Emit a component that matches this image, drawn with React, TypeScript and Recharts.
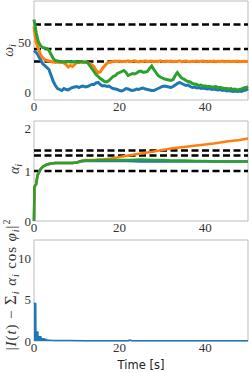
import { LineChart, Line, AreaChart, Area, XAxis, YAxis, ReferenceLine, ReferenceArea } from 'recharts';

// time grid for the frequency panel (s)
const tOmega = [
  0, 0.5, 1, 1.5, 2, 2.5, 3, 3.5, 4, 4.5, 5, 5.5, 6, 6.5, 7, 7.5, 8, 8.5, 9, 9.5,
  10, 10.5, 11, 11.5, 12, 12.5, 13, 13.5, 14, 14.5, 15, 15.5, 16, 16.5, 17, 17.5, 18, 18.5, 19, 19.5,
  20, 20.5, 21, 21.5, 22, 22.5, 23, 23.5, 24, 24.5, 25, 25.5, 26, 26.5, 27, 27.5, 28, 28.5, 29, 29.5,
  30, 30.5, 31, 31.5, 32, 32.5, 33, 33.5, 34, 34.5, 35, 35.5, 36, 36.5, 37, 37.5, 38, 38.5, 39, 39.5,
  40, 40.5, 41, 41.5, 42, 42.5, 43, 43.5, 44, 44.5, 45, 45.5, 46, 46.5, 47, 47.5, 48, 48.5, 49, 49.5, 50,
];
const omegaBlue = [
  42, 40, 37, 33, 29, 27, 25, 23, 17, 11, 7, 4, 3, 2, 4, 3, 2.5, 4, 5, 5.5,
  6, 5, 6, 6.5, 5.5, 6, 7, 8, 8, 9.5, 10, 8, 6.5, 7, 6, 6.5, 5, 4, 3.5, 3,
  2, 1.5, 2.5, 4, 3.5, 2.5, 2, 2.5, 3.5, 3, 4, 4.5, 3.5, 3, 2.5, 2, 2, 3, 4, 5,
  6, 6.5, 6, 5.5, 5, 6, 7.5, 9, 10, 9, 8, 7, 7.5, 6, 5, 5.5, 4.5, 5, 4, 4.5,
  4, 3.5, 4, 3, 3.5, 3, 2.5, 3, 2, 2.5, 1.5, 2, 1.5, 1, 1.5, 1, 1.5, 1, 2, 2.5, 4,
];
const omegaOrange = [
  66, 50, 44, 38, 35, 33, 32, 31.5, 31, 30.5, 30, 30.5, 30, 30.5, 29.5, 28, 25.5, 27, 26, 28,
  30, 30, 30.5, 30, 30.5, 30, 29, 27.5, 26, 22, 20, 20.5, 24, 26.5, 29, 30, 30.5, 31, 31.5, 31,
  31.5, 30.8, 31.3, 31, 31.6, 30.9, 31.2, 31.7, 31, 30.6, 31.3, 31.1, 31.6, 30.8, 31.2, 31.5, 30.9, 31.3, 31, 31.6,
  31.1, 30.7, 31.4, 31, 31.5, 30.9, 31.3, 31.1, 31.6, 30.8, 31.2, 31.5, 31, 30.7, 31.3, 31.1, 31.5, 30.9, 31.2, 31.4,
  31, 30.8, 31.3, 31.1, 31.5, 30.9, 31.2, 31, 31.4, 30.8, 31.1, 31.3, 30.9, 31.2, 31, 31.4, 30.8, 31.1, 31.2, 30.9, 31,
];
const omegaGreen = [
  73, 60, 51, 47, 45, 44.5, 44, 42, 38, 34, 32, 31.5, 31, 30.5, 31, 30.5, 31, 30.5, 30.5, 31,
  30.5, 30.5, 31, 30.5, 30.5, 30, 27, 24, 21, 18, 16, 14, 12.5, 11, 10.5, 12, 14, 16, 17, 19,
  20, 21, 22, 20, 17, 18, 19, 18.5, 19.5, 21, 21.5, 20, 20.5, 21, 24, 26.5, 23, 20, 17, 15.5,
  14.5, 13.5, 13, 12.5, 12, 13, 17, 20, 17, 14.5, 13.5, 12, 11, 10.5, 9, 8.5, 8, 7, 7.5, 6.5,
  6.5, 6, 6, 5.5, 5.5, 6, 5, 5, 4.5, 4, 4, 3.5, 4, 3, 3.5, 2.5, 3, 3.5, 4.5, 5, 6,
];
const omegaRefs = [68, 43.5, 31];

// time grid for the amplitude panel (s)
const tAlpha = [0, 0.1, 0.3, 0.5, 0.8, 1, 1.5, 2, 2.5, 3, 4, 5, 6, 7, 8, 9, 10, 11, 12, 13, 14, 15, 16, 18, 20, 22, 25, 28, 30, 32, 35, 38, 40, 42, 45, 48, 50];
const alphaBlue = [0, 0.68, 0.71, 0.74, 0.9, 0.95, 1.03, 1.08, 1.11, 1.13, 1.15, 1.16, 1.16, 1.16, 1.16, 1.16, 1.17, 1.19, 1.2, 1.2, 1.2, 1.2, 1.2, 1.2, 1.2, 1.2, 1.19, 1.19, 1.19, 1.19, 1.19, 1.19, 1.19, 1.19, 1.19, 1.19, 1.19];
const alphaOrange = [0, 0.68, 0.71, 0.74, 0.9, 0.95, 1.03, 1.08, 1.11, 1.13, 1.15, 1.16, 1.16, 1.16, 1.16, 1.16, 1.17, 1.2, 1.22, 1.22, 1.22, 1.23, 1.23, 1.25, 1.28, 1.31, 1.35, 1.39, 1.42, 1.45, 1.48, 1.51, 1.53, 1.55, 1.59, 1.62, 1.65];
const alphaGreen = [0, 0.68, 0.71, 0.74, 0.9, 0.95, 1.03, 1.08, 1.11, 1.13, 1.15, 1.16, 1.16, 1.16, 1.16, 1.16, 1.17, 1.2, 1.21, 1.21, 1.21, 1.22, 1.22, 1.22, 1.22, 1.22, 1.23, 1.22, 1.22, 1.21, 1.21, 1.2, 1.2, 1.19, 1.19, 1.19, 1.19];
const alphaRefs = [1.41, 1.31, 1.0];

// reconstruction error
const tErr = [0, 0.4, 0.45, 0.9, 0.95, 1.6, 1.7, 2.5, 3, 4, 5, 8, 12, 20, 22, 22.3, 23, 30, 40, 50];
const errBlue = [4.6, 4.5, 1.1, 1.1, 0.5, 0.5, 0.3, 0.25, 0.12, 0.08, 0.06, 0.05, 0.04, 0.03, 0.03, 0.12, 0.03, 0.03, 0.03, 0.03];

const xTicks = [0, 20, 40];
const omegaTicks = [0, 50];
const alphaTicks = [0, 1, 2];
const errTicks = [0, 5, 10];

const BLUE = '#1f77b4';
const ORANGE = '#ff7f0e';
const GREEN = '#2ca02c';
const SPINE = '#bcbcbc';
const SERIF = '"Liberation Serif", "DejaVu Serif", serif';
const tickStyle = { fontSize: 13, fontFamily: SERIF, fill: '#333' };

const omegaData = tOmega.map((t, i) => ({ t, b: omegaBlue[i], o: omegaOrange[i], g: omegaGreen[i] }));
const alphaData = tAlpha.map((t, i) => ({ t, b: alphaBlue[i], o: alphaOrange[i], g: alphaGreen[i] }));
const errData = tErr.map((t, i) => ({ t, e: errBlue[i] }));

const OmegaLabel = ({ viewBox }: any) => {
  const x = 13;
  const y = viewBox.y + viewBox.height / 2;
  return (
    <text transform={`rotate(-90 ${x} ${y})`} x={x} y={y} textAnchor="middle" fontFamily={SERIF} fontSize={14} fill="#333">
      <tspan fontStyle="italic">ω</tspan>
      <tspan fontStyle="italic" fontSize={10} dy={3}>i</tspan>
    </text>
  );
};

const AlphaLabel = ({ viewBox }: any) => {
  const x = 19;
  const y = viewBox.y + viewBox.height / 2 - 2;
  return (
    <text transform={`rotate(-90 ${x} ${y})`} x={x} y={y} textAnchor="middle" fontFamily={SERIF} fontSize={14} fill="#333">
      <tspan fontStyle="italic">α</tspan>
      <tspan fontStyle="italic" fontSize={10} dy={3}>i</tspan>
    </text>
  );
};

const ErrLabel = ({ viewBox }: any) => {
  const x = 16;
  const y = viewBox.y + viewBox.height / 2 - 6;
  return (
    <text transform={`rotate(-90 ${x} ${y})`} x={x} y={y} textAnchor="middle" fontFamily={SERIF} fontSize={15} letterSpacing={0.9} fill="#333">
      <tspan>|</tspan>
      <tspan fontStyle="italic">I</tspan>
      <tspan>(</tspan>
      <tspan fontStyle="italic">t</tspan>
      <tspan>) − </tspan>
      <tspan fontSize={17}>Σ</tspan>
      <tspan fontStyle="italic" fontSize={10} dy={3}>i</tspan>
      <tspan fontStyle="italic" dy={-3}> α</tspan>
      <tspan fontStyle="italic" fontSize={10} dy={3}>i</tspan>
      <tspan dy={-3}> cos </tspan>
      <tspan fontStyle="italic">φ</tspan>
      <tspan fontStyle="italic" fontSize={10} dy={3}>i</tspan>
      <tspan dy={-3}>|</tspan>
      <tspan fontSize={10} dy={-6}>2</tspan>
    </text>
  );
};

// y is in the svg's own coordinates (the third chart starts at page y 218)
const TimeLabel = ({ viewBox }: any) => (
  <text x={viewBox.x + viewBox.width / 2} y={151} textAnchor="middle" fontFamily='"DejaVu Sans", sans-serif' fontSize={11.5} fill="#222">
    Time [s]
  </text>
);

export default function App() {
  return (
    <div style={{ position: 'absolute', left: 0, top: 0, width: 249, height: 373, background: '#fff' }}>
      <div style={{ position: 'absolute', left: 0, top: 0 }}>
        <LineChart width={249} height={120} data={omegaData} margin={{ top: 1, right: 1, left: 0, bottom: 0 }}>
          <XAxis dataKey="t" type="number" domain={[0, 50]} ticks={xTicks} tickLine={false} axisLine={false} tickSize={0} tickMargin={2} height={20} tick={tickStyle} />
          <YAxis type="number" domain={[-7.5, 91.5]} ticks={omegaTicks} tickLine={false} axisLine={false} tickSize={0} tickMargin={3} width={34} tick={tickStyle} label={<OmegaLabel />} />
          <ReferenceArea x1={0} x2={50} y1={-7.5} y2={91.5} fill="none" stroke={SPINE} strokeWidth={1} />
          {omegaRefs.map((v) => (
            <ReferenceLine key={v} y={v} stroke="#000" strokeWidth={2.6} strokeDasharray="7 3.5" />
          ))}
          <Line dataKey="b" stroke={BLUE} strokeWidth={3} dot={false} type="linear" isAnimationActive={false} />
          <Line dataKey="o" stroke={ORANGE} strokeWidth={3} dot={false} type="linear" isAnimationActive={false} />
          <Line dataKey="g" stroke={GREEN} strokeWidth={3} dot={false} type="linear" isAnimationActive={false} />
        </LineChart>
      </div>
      <div style={{ position: 'absolute', left: 0, top: 120 }}>
        <LineChart width={249} height={120} data={alphaData} margin={{ top: 1, right: 1, left: 0, bottom: 0 }}>
          <XAxis dataKey="t" type="number" domain={[0, 50]} ticks={xTicks} tickLine={false} axisLine={false} tickSize={0} tickMargin={2} height={19} tick={tickStyle} />
          <YAxis type="number" domain={[0, 2]} ticks={alphaTicks} tickLine={false} axisLine={false} tickSize={0} tickMargin={3} width={34} tick={tickStyle} label={<AlphaLabel />} />
          <ReferenceArea x1={0} x2={50} y1={0} y2={2} fill="none" stroke={SPINE} strokeWidth={1} />
          {alphaRefs.map((v) => (
            <ReferenceLine key={v} y={v} stroke="#000" strokeWidth={2.6} strokeDasharray="7 3.5" />
          ))}
          <Line dataKey="b" stroke={BLUE} strokeWidth={2.5} dot={false} type="linear" isAnimationActive={false} />
          <Line dataKey="o" stroke={ORANGE} strokeWidth={2.5} dot={false} type="linear" isAnimationActive={false} />
          <Line dataKey="g" stroke={GREEN} strokeWidth={2.5} dot={false} type="linear" isAnimationActive={false} />
        </LineChart>
      </div>
      <div style={{ position: 'absolute', left: 0, top: 218 }}>
        <AreaChart width={249} height={155} data={errData} margin={{ top: 22, right: 1, left: 0, bottom: 0 }}>
          <XAxis dataKey="t" type="number" domain={[0, 50]} ticks={xTicks} tickLine={false} axisLine={false} tickSize={0} tickMargin={2} height={32} tick={tickStyle} label={<TimeLabel />} />
          <YAxis type="number" domain={[0, 12.2]} ticks={errTicks} tickLine={false} axisLine={false} tickSize={0} tickMargin={3} width={34} tick={tickStyle} label={<ErrLabel />} />
          <ReferenceArea x1={0} x2={50} y1={0} y2={12.2} fill="none" stroke={SPINE} strokeWidth={1} />
          <Area dataKey="e" type="linear" stroke={BLUE} strokeWidth={1.5} fill={BLUE} fillOpacity={1} dot={false} isAnimationActive={false} />
        </AreaChart>
      </div>
    </div>
  );
}
